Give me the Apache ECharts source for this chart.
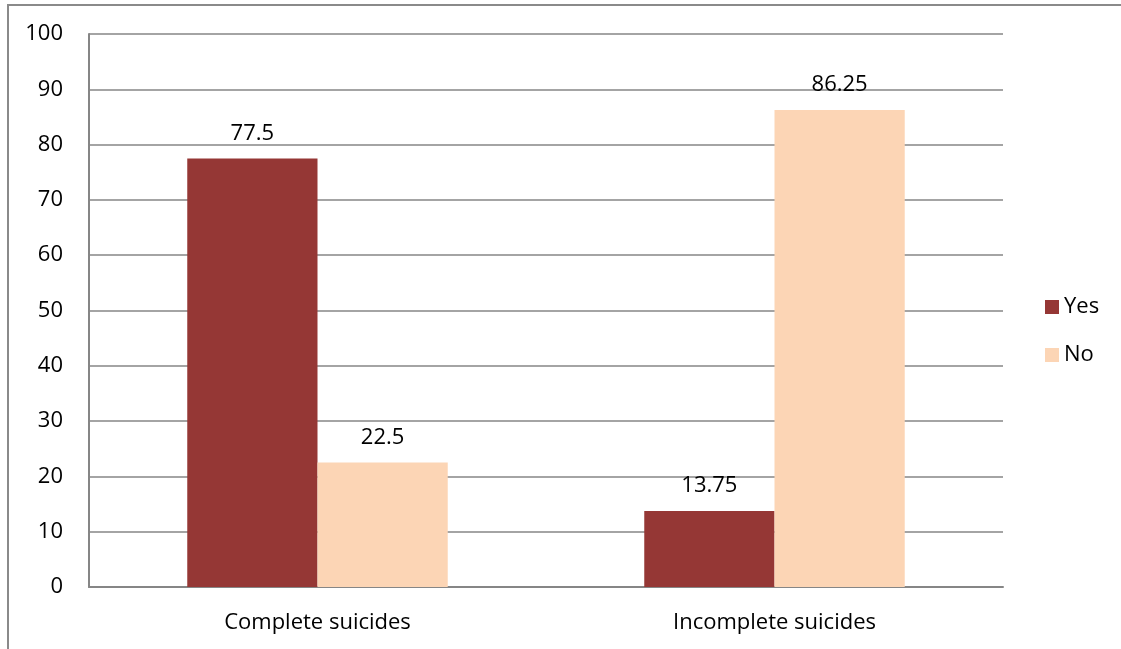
<!DOCTYPE html>
<html>
<head>
<meta charset="utf-8">
<script src="https://cdn.jsdelivr.net/npm/echarts@6/dist/echarts.min.js"></script>
<style>
  html, body { margin: 0; padding: 0; background: #fff; }
  #frame { position: absolute; left: 7px; top: 4px; width: 1120px; height: 650px;
           border-left: 2px solid #8a8a8a; border-top: 2px solid #8a8a8a; box-sizing: border-box; }
  #chart { position: absolute; left: 0; top: 0; width: 1121px; height: 649px; }
</style>
</head>
<body>
<div id="frame"></div>
<div id="chart"></div>
<script>
// Suicide outcome categories and the share answering Yes / No (%)
const categories = ['Complete suicides', 'Incomplete suicides'];
const yesValues = [77.5, 13.75];
const noValues = [22.5, 86.25];
const seriesNames = ['Yes', 'No'];

const FONT = '"Open Sans", "Noto Sans", sans-serif';
const FONT_SIZE = 22;
const chart = echarts.init(document.getElementById('chart'), null, { renderer: 'canvas' });

const labelStyle = {
  show: true,
  position: 'top',
  distance: 14,
  color: '#000',
  fontFamily: FONT,
  fontSize: FONT_SIZE
};

chart.setOption({
  animation: false,
  backgroundColor: 'transparent',
  grid: { left: 89, top: 34, right: 118, bottom: 62, containLabel: false },
  legend: {
    orient: 'vertical',
    left: 1045,
    top: 296,
    padding: 0,
    itemWidth: 14,
    itemHeight: 14,
    itemGap: 26,
    icon: 'rect',
    textStyle: { fontFamily: FONT, fontSize: FONT_SIZE, color: '#000' },
    data: seriesNames
  },
  xAxis: {
    type: 'category',
    data: categories,
    axisLine: { lineStyle: { color: '#868686', width: 2 } },
    axisTick: { show: false },
    axisLabel: { color: '#000', fontFamily: FONT, fontSize: FONT_SIZE, margin: 25 }
  },
  yAxis: {
    type: 'value',
    min: 0,
    max: 100,
    interval: 10,
    axisLine: { show: true, lineStyle: { color: '#868686', width: 2 } },
    axisTick: { show: false },
    axisLabel: { color: '#000', fontFamily: FONT, fontSize: FONT_SIZE, margin: 26 },
    splitLine: { lineStyle: { color: '#868686', width: 1.5 } }
  },
  series: [
    {
      name: seriesNames[0],
      type: 'bar',
      data: yesValues,
      itemStyle: { color: '#953735' },
      barGap: '0%',
      barCategoryGap: '43%',
      label: labelStyle
    },
    {
      name: seriesNames[1],
      type: 'bar',
      data: noValues,
      itemStyle: { color: '#FCD5B5' },
      barGap: '0%',
      barCategoryGap: '43%',
      label: labelStyle
    }
  ]
});
</script>
</body>
</html>
